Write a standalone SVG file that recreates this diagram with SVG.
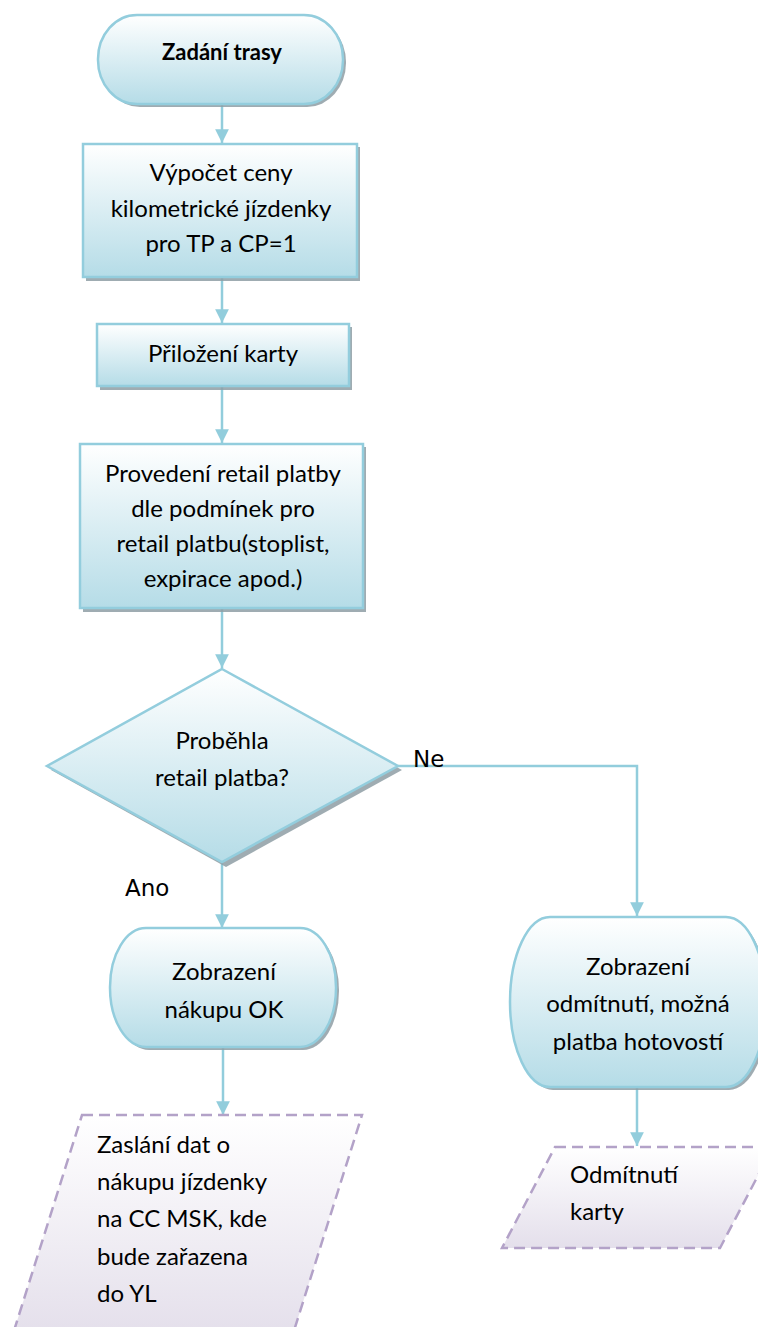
<svg xmlns="http://www.w3.org/2000/svg" width="758" height="1327" viewBox="0 0 758 1327">
<defs>
<linearGradient id="gb" x1="0" y1="0" x2="0" y2="1">
<stop offset="0" stop-color="#ffffff"/>
<stop offset="1" stop-color="#b5dce7"/>
</linearGradient>
<linearGradient id="gp" x1="0" y1="0" x2="0" y2="1">
<stop offset="0" stop-color="#ffffff"/>
<stop offset="1" stop-color="#e4dfeb"/>
</linearGradient>
<marker id="arr" viewBox="0 0 10 10" refX="10" refY="5" markerWidth="5.5" markerHeight="5.5" orient="auto" markerUnits="strokeWidth">
<path d="M0,0 L10,5 L0,10 Z" fill="#92cddc"/>
</marker>
<style>
.sh{fill:#8e9ea5;opacity:0.85}
.bx{fill:url(#gb);stroke:#93cddd;stroke-width:2.5}
.px{fill:url(#gp);stroke:#b3a2c8;stroke-width:2.5;stroke-dasharray:11 6}
.t{font-family:Lato,"Noto Sans",sans-serif;font-size:24px;fill:#000}
.c{text-anchor:middle}
.b{font-weight:bold;font-size:22px}
.lb{font-family:"DejaVu Sans",sans-serif;font-size:23px;fill:#000}
.cn{fill:none;stroke:#92cddc;stroke-width:2.5}
</style>
</defs>
<rect width="758" height="1327" fill="#ffffff"/>
<g id="connectors">
<path class="cn" d="M222,104 L222,143" marker-end="url(#arr)"/>
<path class="cn" d="M222,277 L222,323" marker-end="url(#arr)"/>
<path class="cn" d="M222,386 L222,443" marker-end="url(#arr)"/>
<path class="cn" d="M222,608 L222,668" marker-end="url(#arr)"/>
<path class="cn" d="M222,862 L222,928" marker-end="url(#arr)"/>
<path class="cn" d="M398,766 L637,766 L637,916" marker-end="url(#arr)"/>
<path class="cn" d="M223,1047 L223,1115" marker-end="url(#arr)"/>
<path class="cn" d="M637,1087 L637,1146" marker-end="url(#arr)"/>
<text class="lb" x="413" y="767">Ne</text>
<text class="lb" x="125" y="896">Ano</text>
</g>
<g id="n1">
<rect class="sh" x="101" y="18" width="245" height="89" rx="39" ry="44"/>
<rect class="bx" x="98" y="15" width="245" height="89" rx="39" ry="44"/>
<text class="t c b" x="222" y="60">Zadání trasy</text>
</g>
<g id="n2">
<rect class="sh" x="86" y="147" width="274" height="134"/>
<rect class="bx" x="83" y="144" width="274" height="133"/>
<text class="t c" x="221" y="181">Výpočet ceny</text>
<text class="t c" x="221" y="217">kilometrické jízdenky</text>
<text class="t c" x="221" y="252">pro TP a CP=1</text>
</g>
<g id="n3">
<rect class="sh" x="100" y="327" width="252" height="63"/>
<rect class="bx" x="97" y="324" width="252" height="62"/>
<text class="t c" x="223" y="362">Přiložení karty</text>
</g>
<g id="n4">
<rect class="sh" x="83" y="447" width="283" height="165"/>
<rect class="bx" x="80" y="444" width="283" height="164"/>
<text class="t c" x="223" y="482">Provedení retail platby</text>
<text class="t c" x="223" y="517">dle podmínek pro</text>
<text class="t c" x="223" y="552">retail platbu(stoplist,</text>
<text class="t c" x="223" y="587">expirace apod.)</text>
</g>
<g id="n5">
<path class="sh" d="M226,673 L402,770 L226,867 L51,770 Z"/>
<path class="bx" d="M222,669 L398,766 L222,862 L47,766 Z"/>
<text class="t c" x="222" y="749">Proběhla</text>
<text class="t c" x="222" y="786">retail platba?</text>
</g>
<g id="n6">
<rect class="sh" x="113" y="931" width="226" height="119" rx="36" ry="59"/>
<rect class="bx" x="110" y="928" width="226" height="119" rx="36" ry="59"/>
<text class="t c" x="224" y="980">Zobrazení</text>
<text class="t c" x="224" y="1018">nákupu OK</text>
</g>
<g id="n7">
<rect class="sh" x="513" y="920" width="256" height="170" rx="40" ry="85"/>
<rect class="bx" x="510" y="917" width="256" height="170" rx="40" ry="85"/>
<text class="t c" x="638" y="975">Zobrazení</text>
<text class="t c" x="638" y="1012">odmítnutí, možná</text>
<text class="t c" x="638" y="1050">platba hotovostí</text>
</g>
<g id="n8">
<path class="px" d="M82,1115 L362,1115 L292,1337 L12,1337 Z"/>
<text class="t" x="97" y="1153">Zaslání dat o</text>
<text class="t" x="97" y="1190">nákupu jízdenky</text>
<text class="t" x="97" y="1227">na CC MSK, kde</text>
<text class="t" x="97" y="1265">bude zařazena</text>
<text class="t" x="97" y="1302">do YL</text>
</g>
<g id="n9">
<path class="px" d="M555,1147 L773,1147 L720,1248 L502,1248 Z"/>
<text class="t" x="570" y="1183">Odmítnutí</text>
<text class="t" x="570" y="1220">karty</text>
</g>
</svg>
